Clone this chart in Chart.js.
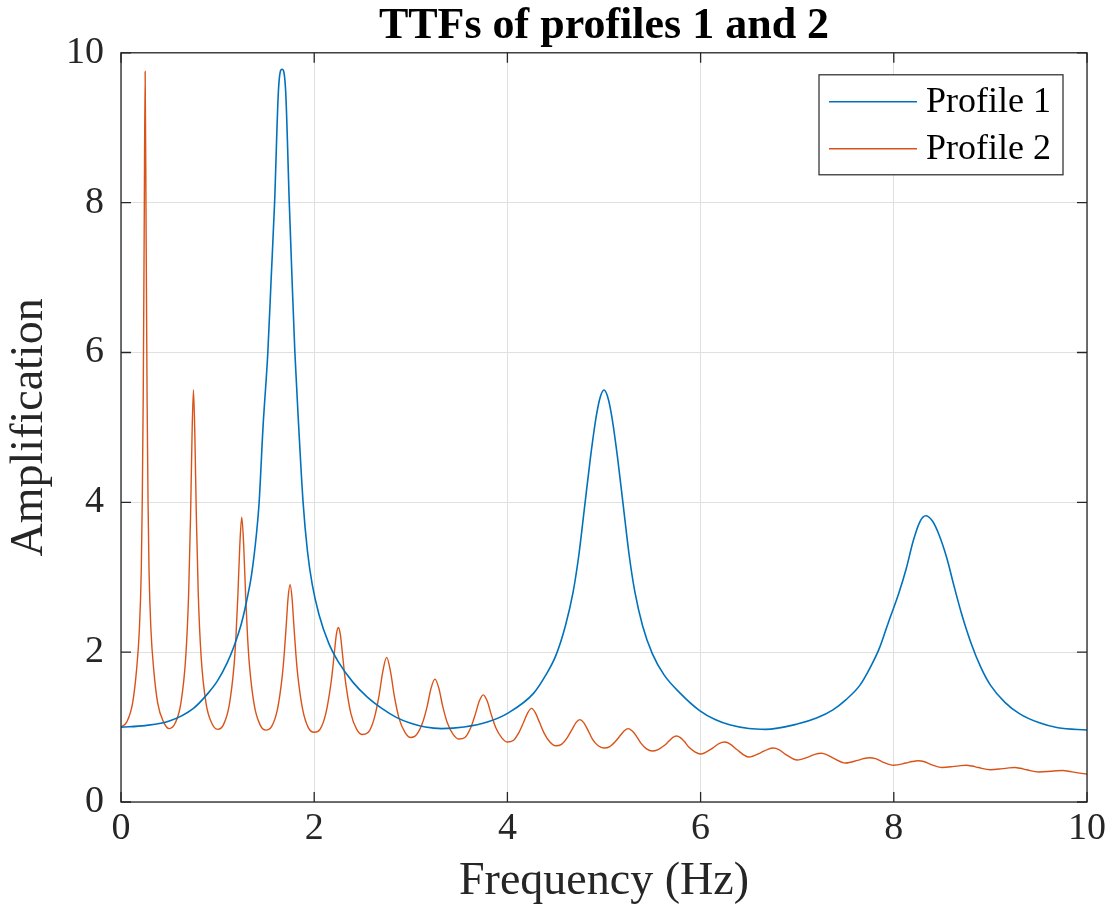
<!DOCTYPE html>
<html>
<head>
<meta charset="utf-8">
<title>TTFs of profiles 1 and 2</title>
<script src="https://cdn.jsdelivr.net/npm/chart.js@4.4.1/dist/chart.umd.min.js"></script>
<style>
  html, body { margin: 0; padding: 0; background: #fff; }
  #wrap { width: 1116px; height: 922px; }
</style>
</head>
<body>
<div id="wrap"><canvas id="ttfChart" width="1116" height="922"></canvas></div>
<script>
// Profile 1 transfer function (frequency in Hz, amplification)
const profile1Freq = [
  0, 0.25, 0.5, 0.75, 0.9, 1.0, 1.1, 1.17, 1.25, 1.3, 1.35, 1.4, 1.43, 1.47, 1.52, 1.555,
  1.59, 1.63, 1.667, 1.704, 1.742, 1.77, 1.8, 1.84, 1.885, 1.93, 1.98, 2.05, 2.15, 2.25,
  2.4, 2.55, 2.7, 2.85, 3.0, 3.15, 3.32, 3.55, 3.8, 4.01, 4.27, 4.4, 4.5, 4.6, 4.68, 4.74,
  4.8, 4.86, 4.92, 4.96, 5.0, 5.04, 5.08, 5.14, 5.2, 5.26, 5.32, 5.4, 5.5, 5.62, 5.79, 5.99,
  6.15, 6.3, 6.5, 6.67, 7.0, 7.2, 7.37, 7.5, 7.65, 7.75, 7.85, 7.95, 8.05, 8.13, 8.2, 8.27,
  8.33, 8.4, 8.47, 8.55, 8.62, 8.7, 8.8, 8.9, 9.0, 9.15, 9.3, 9.5, 9.7, 10.0
];
const profile1Amp = [
  1.00, 1.02, 1.08, 1.25, 1.45, 1.62, 1.86, 2.08, 2.40, 2.68, 3.02, 3.55, 4.00, 5.00, 6.00, 7.00,
  8.00, 9.50, 9.78, 9.50, 8.00, 7.00, 6.00, 5.00, 4.00, 3.35, 2.90, 2.50, 2.12, 1.87,
  1.60, 1.40, 1.25, 1.13, 1.05, 1.00, 0.98, 1.00, 1.07, 1.19, 1.45, 1.70, 1.95, 2.35, 2.80, 3.30,
  3.95, 4.60, 5.15, 5.40, 5.50, 5.40, 5.15, 4.60, 3.95, 3.30, 2.80, 2.35, 1.98, 1.70, 1.45, 1.22,
  1.10, 1.03, 0.98, 0.97, 1.04, 1.12, 1.23, 1.36, 1.56, 1.78, 2.05, 2.42, 2.78, 3.12, 3.48, 3.74,
  3.82, 3.75, 3.56, 3.25, 2.90, 2.52, 2.12, 1.80, 1.56, 1.33, 1.18, 1.06, 0.99, 0.96
];

// Profile 2 transfer function
const profile2Freq = [
  0, 0.06, 0.12, 0.16, 0.19, 0.21, 0.22, 0.23, 0.24, 0.25, 0.26, 0.27, 0.28, 0.29, 0.31, 0.34, 0.38, 0.44,
  0.5, 0.56, 0.62, 0.67, 0.7, 0.72, 0.735, 0.75, 0.765, 0.78, 0.8, 0.83, 0.88, 0.94,
  1.0, 1.06, 1.12, 1.17, 1.19, 1.21, 1.23, 1.25, 1.27, 1.29, 1.31, 1.33, 1.38, 1.44,
  1.5, 1.56, 1.62, 1.67, 1.69, 1.71, 1.73, 1.75, 1.77, 1.79, 1.81, 1.83, 1.88, 1.94,
  2.0, 2.06, 2.12, 2.17, 2.19, 2.21, 2.23, 2.25, 2.27, 2.29, 2.31, 2.33, 2.38, 2.44,
  2.5, 2.56, 2.62, 2.67, 2.71, 2.75, 2.79, 2.83, 2.88, 2.94,
  3.0, 3.06, 3.12, 3.17, 3.21, 3.25, 3.29, 3.33, 3.38, 3.44,
  3.5, 3.56, 3.62, 3.67, 3.71, 3.75, 3.79, 3.83, 3.88, 3.94,
  4.0, 4.06, 4.12, 4.17, 4.21, 4.25, 4.29, 4.33, 4.38, 4.44,
  4.5, 4.56, 4.62, 4.67, 4.71, 4.75, 4.79, 4.83, 4.88, 4.94,
  5.0, 5.06, 5.12, 5.17, 5.21, 5.25, 5.29, 5.33, 5.38, 5.44,
  5.5, 5.56, 5.62, 5.67, 5.71, 5.75, 5.79, 5.83, 5.88, 5.94,
  6.0, 6.125, 6.19, 6.25, 6.31, 6.375,
  6.5, 6.625, 6.69, 6.75, 6.81, 6.875,
  7.0, 7.125, 7.19, 7.25, 7.31, 7.375,
  7.5, 7.625, 7.69, 7.75, 7.81, 7.875,
  8.0, 8.125, 8.19, 8.25, 8.31, 8.375,
  8.5, 8.625, 8.69, 8.75, 8.81, 8.875,
  9.0, 9.125, 9.19, 9.25, 9.31, 9.375,
  9.5, 9.625, 9.69, 9.75, 9.81, 9.875,
  10.0
];
const profile2Amp = [
  1.00, 1.07, 1.32, 1.75, 2.30, 3.10, 4.00, 5.40, 7.60, 9.75, 7.60, 5.40, 4.00, 3.10, 2.30, 1.75, 1.32, 1.07,
  0.98, 1.05, 1.32, 1.93, 2.77, 3.81, 4.87, 5.50, 4.87, 3.81, 2.77, 1.93, 1.32, 1.05,
  0.97, 1.03, 1.29, 1.82, 2.21, 2.76, 3.43, 3.80, 3.43, 2.76, 2.21, 1.82, 1.29, 1.03,
  0.96, 1.01, 1.24, 1.69, 1.98, 2.35, 2.73, 2.90, 2.73, 2.35, 1.98, 1.69, 1.24, 0.99,
  0.93, 0.97, 1.18, 1.55, 1.76, 2.01, 2.24, 2.33, 2.24, 2.01, 1.76, 1.55, 1.18, 0.97,
  0.90, 0.93, 1.11, 1.41, 1.74, 1.93, 1.74, 1.41, 1.11, 0.93,
  0.86, 0.90, 1.05, 1.28, 1.52, 1.64, 1.52, 1.28, 1.05, 0.90,
  0.84, 0.86, 0.99, 1.18, 1.35, 1.43, 1.35, 1.18, 0.99, 0.86,
  0.80, 0.82, 0.93, 1.07, 1.19, 1.25, 1.19, 1.07, 0.92, 0.80,
  0.75, 0.77, 0.86, 0.97, 1.06, 1.10, 1.06, 0.97, 0.84, 0.75,
  0.72, 0.74, 0.81, 0.89, 0.95, 0.98, 0.95, 0.89, 0.79, 0.71,
  0.68, 0.70, 0.75, 0.81, 0.86, 0.88, 0.86, 0.81, 0.73, 0.67,
  0.64, 0.72, 0.78, 0.80, 0.77, 0.70,
  0.60, 0.66, 0.70, 0.72, 0.70, 0.64,
  0.56, 0.605, 0.64, 0.65, 0.63, 0.585,
  0.52, 0.555, 0.58, 0.59, 0.58, 0.54,
  0.49, 0.52, 0.54, 0.55, 0.54, 0.505,
  0.46, 0.475, 0.485, 0.49, 0.48, 0.46,
  0.43, 0.445, 0.455, 0.46, 0.45, 0.43,
  0.40, 0.41, 0.417, 0.42, 0.41, 0.395,
  0.37
];

const seriesNames = ['Profile 1', 'Profile 2'];
const seriesColors = ['#0072BD', '#D95319'];
const axisTicks = [0, 2, 4, 6, 8, 10];

const SERIF = "'Liberation Serif', 'Times New Roman', serif";
const INK = '#262626';

function toPoints(xs, ys) {
  return xs.map((f, i) => ({ x: f, y: ys[i] }));
}

// axes box with inward tick marks plus the boxed legend in the upper right
const axesFrame = {
  id: 'axesFrame',
  afterDatasetsDraw(chart) {
    const { ctx, chartArea: a, scales: { x, y } } = chart;
    ctx.save();
    ctx.strokeStyle = INK;
    ctx.lineWidth = 1.3;
    ctx.strokeRect(a.left, a.top, a.right - a.left, a.bottom - a.top);

    const len = 10;
    ctx.beginPath();
    x.ticks.forEach(t => {
      const px = x.getPixelForValue(t.value);
      ctx.moveTo(px, a.bottom); ctx.lineTo(px, a.bottom - len);
      ctx.moveTo(px, a.top); ctx.lineTo(px, a.top + len);
    });
    y.ticks.forEach(t => {
      const py = y.getPixelForValue(t.value);
      ctx.moveTo(a.left, py); ctx.lineTo(a.left + len, py);
      ctx.moveTo(a.right, py); ctx.lineTo(a.right - len, py);
    });
    ctx.stroke();

    // legend
    const boxW = 244, boxH = 100;
    const bx = a.right - 24 - boxW, by = a.top + 22;
    ctx.fillStyle = '#fff';
    ctx.fillRect(bx, by, boxW, boxH);
    ctx.lineWidth = 1.2;
    ctx.strokeStyle = INK;
    ctx.strokeRect(bx, by, boxW, boxH);
    ctx.font = '36px ' + SERIF;
    ctx.textBaseline = 'middle';
    ctx.textAlign = 'left';
    chart.data.datasets.forEach((ds, i) => {
      const ly = by + 27 + i * 47;
      ctx.strokeStyle = ds.borderColor;
      ctx.lineWidth = 1.6;
      ctx.beginPath();
      ctx.moveTo(bx + 10, ly);
      ctx.lineTo(bx + 98, ly);
      ctx.stroke();
      ctx.fillStyle = '#000';
      ctx.fillText(ds.label, bx + 107, ly + 1);
    });
    ctx.restore();
  }
};

new Chart(document.getElementById('ttfChart').getContext('2d'), {
  type: 'line',
  data: {
    datasets: [
      {
        label: seriesNames[0],
        data: toPoints(profile1Freq, profile1Amp),
        borderColor: seriesColors[0],
        borderWidth: 1.6,
        pointRadius: 0,
        cubicInterpolationMode: 'monotone'
      },
      {
        label: seriesNames[1],
        data: toPoints(profile2Freq, profile2Amp),
        borderColor: seriesColors[1],
        borderWidth: 1.4,
        pointRadius: 0,
        cubicInterpolationMode: 'monotone'
      }
    ]
  },
  options: {
    responsive: false,
    animation: false,
    layout: { padding: { top: 0, right: 29, bottom: 0, left: 0 } },
    plugins: {
      legend: { display: false },
      tooltip: { enabled: false },
      title: {
        display: true,
        text: 'TTFs of profiles 1 and 2',
        fullSize: false,
        color: '#000',
        font: { family: SERIF, size: 44, weight: 'bold', lineHeight: 1.2 },
        padding: { top: 0, bottom: 0 }
      }
    },
    scales: {
      x: {
        type: 'linear',
        min: 0,
        max: 10,
        afterBuildTicks: s => { s.ticks = axisTicks.map(v => ({ value: v })); },
        afterFit: s => { s.height = 120; },
        grid: { color: '#e0e0e0', lineWidth: 1, drawTicks: false },
        border: { display: false },
        ticks: { color: INK, padding: 4, font: { family: SERIF, size: 38 }, maxRotation: 0 },
        title: {
          display: true,
          text: 'Frequency (Hz)',
          color: INK,
          font: { family: SERIF, size: 46 },
          padding: { top: 0, bottom: 12 }
        }
      },
      y: {
        type: 'linear',
        min: 0,
        max: 10,
        afterBuildTicks: s => { s.ticks = axisTicks.map(v => ({ value: v })); },
        afterFit: s => { s.width = 121; },
        grid: { color: '#e0e0e0', lineWidth: 1, drawTicks: false },
        border: { display: false },
        ticks: { color: INK, padding: 17, font: { family: SERIF, size: 38 } },
        title: {
          display: true,
          text: 'Amplification',
          color: INK,
          font: { family: SERIF, size: 46 },
          padding: { top: 2, bottom: 0 }
        }
      }
    }
  },
  plugins: [axesFrame]
});
</script>
</body>
</html>
